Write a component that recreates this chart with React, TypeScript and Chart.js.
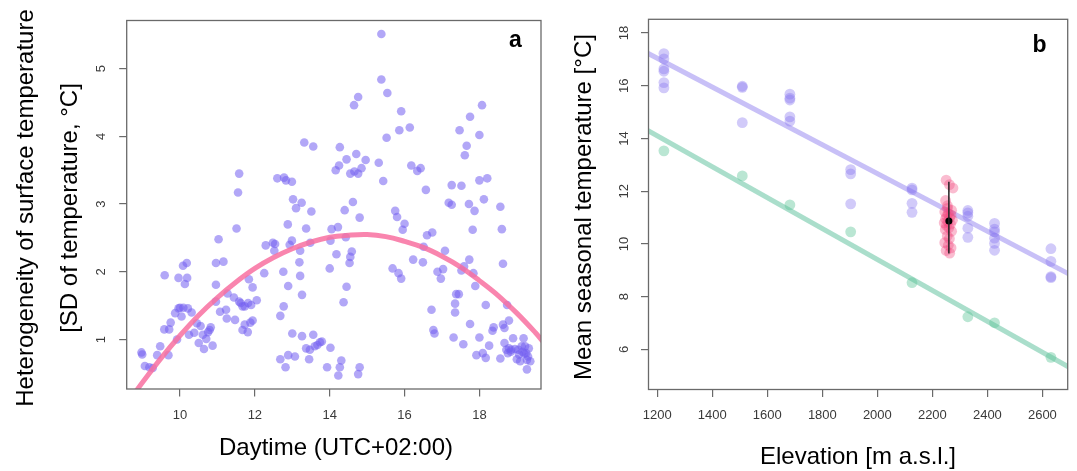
import React, { useEffect, useRef } from 'react';
import { Chart, registerables } from 'chart.js';

Chart.register(...registerables);

const FONT = "'Liberation Sans', Arial, Helvetica, sans-serif";

// ---------- Panel a: heterogeneity vs daytime ----------
const daytime = [
  8.97, 8.99, 9.06, 9.18, 9.27, 9.39, 9.47, 9.59, 9.58, 9.71,
  9.69, 9.75, 9.87, 9.92, 9.96, 10.04, 9.96, 10.08, 10.18, 10.13,
  10.19, 10.21, 10.31, 10.24, 10.45, 10.38, 10.5, 10.61, 10.64, 10.7,
  10.75, 10.82, 10.87, 10.79, 10.96, 10.96, 10.96, 11.03, 11.07, 11.16,
  11.23, 11.25, 11.27, 11.44, 11.47, 11.51, 11.55, 11.58, 11.58, 11.62,
  11.67, 11.67, 11.73, 11.81, 11.88, 11.94, 11.73, 11.82, 11.9, 12.05,
  11.84, 11.94, 12.25, 12.29, 12.48, 12.52, 12.54, 12.6, 12.78, 12.83,
  12.99, 12.68, 12.76, 12.77, 12.68, 12.82, 12.89, 12.88, 12.89, 12.93,
  12.99, 13.02, 13.1, 13.25, 13.0, 13.07, 13.19, 13.21, 13.21, 13.26,
  13.26, 13.32, 13.37, 13.37, 13.45, 13.47, 13.48, 13.51, 13.56, 13.56,
  13.6, 13.67, 13.74, 13.79, 14.02, 13.93, 14.0, 14.02, 14.05, 14.16,
  14.25, 14.27, 14.18, 14.22, 14.23, 14.27, 14.31, 14.37, 14.4, 14.43,
  14.45, 14.45, 14.53, 14.55, 14.59, 14.55, 14.66, 14.76, 14.85, 14.62,
  14.65, 14.76, 14.71, 14.76, 14.8, 14.8, 14.96, 15.31, 15.38, 15.38,
  15.43, 15.54, 15.52, 15.68, 15.84, 15.91, 15.75, 15.8, 15.86, 15.91,
  15.95, 16.0, 16.14, 16.18, 16.23, 16.34, 16.43, 16.51, 16.6, 16.74,
  16.49, 16.57, 16.72, 16.77, 16.8, 16.88, 16.97, 17.03, 17.08, 17.18,
  17.26, 17.26, 17.31, 17.35, 17.35, 17.38, 17.45, 17.47, 17.52, 17.52,
  17.59, 17.57, 17.61, 17.66, 17.72, 17.73, 17.75, 17.75, 17.82, 17.84,
  17.89, 17.87, 17.92, 18.0, 18.09, 18.17, 18.0, 18.12, 18.0, 18.07,
  18.17, 18.21, 18.26, 18.35, 18.38, 18.56, 18.56, 18.6, 18.63, 18.63,
  18.67, 18.67, 18.72, 18.76, 18.79, 18.84, 18.74, 18.79, 18.9, 18.95,
  19.0, 19.04, 19.09, 19.13, 19.18, 19.2, 19.25, 19.27, 19.27, 19.32, 19.36,
  18.85, 19.06, 19.15, 19.22, 19.3, 10.09, 10.0, 10.55,
];
const sdTemperature = [
  0.81, 0.78, 0.61, 0.59, 0.58, 0.77, 0.9, 1.95, 1.15, 1.15,
  0.77, 1.25, 1.39, 1.0, 1.46, 1.34, 1.91, 2.09, 2.13, 1.82,
  1.91, 1.46, 1.4, 1.07, 1.24, 1.1, 0.95, 1.07, 0.86, 1.01,
  1.11, 1.18, 0.91, 1.14, 1.56, 1.81, 2.13, 2.48, 1.41, 2.15,
  1.44, 1.31, 1.68, 1.62, 1.29, 2.64, 3.17, 3.45, 1.56, 1.54,
  1.49, 1.14, 1.22, 1.11, 1.25, 1.28, 1.49, 1.54, 1.51, 1.58,
  1.89, 1.77, 1.98, 2.39, 2.43, 2.31, 2.41, 3.38, 3.39, 3.35,
  3.33, 1.35, 2.0, 1.49, 0.71, 0.59, 0.77, 2.7, 1.79, 2.4,
  2.46, 3.07, 2.94, 3.02, 1.09, 0.75, 2.14, 1.94, 2.31, 1.66,
  1.05, 3.91, 2.64, 0.87, 0.71, 0.85, 2.43, 2.89, 3.85, 1.07,
  0.9, 0.92, 0.96, 0.97, 0.88, 0.59, 2.05, 2.46, 2.63, 3.5,
  3.57, 3.84, 2.26, 2.66, 0.47, 0.59, 0.69, 1.55, 2.91, 2.51,
  1.78, 3.66, 2.13, 2.22, 2.3, 3.45, 3.48, 3.45, 3.53, 3.03,
  4.46, 4.58, 3.74, 0.49, 0.59, 2.8, 3.65, 3.61, 5.51, 4.84,
  3.34, 4.64, 3.98, 2.05, 1.98, 1.9, 2.9, 2.81, 4.09, 4.37,
  2.62, 2.71, 4.13, 3.57, 2.18, 3.49, 3.53, 2.37, 2.54, 2.58,
  2.14, 3.21, 1.44, 1.14, 1.09, 2.0, 1.9, 2.04, 2.31, 3.02,
  2.99, 3.28, 1.03, 1.53, 1.4, 1.67, 1.67, 4.09, 3.27, 2.02,
  2.08, 0.93, 3.72, 3.86, 3.0, 2.18, 4.29, 1.23, 2.62, 1.98,
  1.79, 2.9, 0.77, 1.03, 0.8, 0.73, 3.35, 3.07, 4.02, 4.46,
  1.51, 3.38, 0.91, 1.13, 1.18, 0.72, 2.96, 2.63, 2.12, 1.22,
  1.17, 0.95, 0.85, 0.8, 0.87, 0.82, 1.51, 1.28, 1.02, 0.86,
  0.71, 0.85, 0.68, 0.9, 1.02, 0.79, 0.8, 0.7, 0.56, 0.87, 0.68,
  0.85, 0.78, 0.82, 0.9, 0.75, 1.47, 1.47, 1.2,
];
// fitted curve
const fitCurveX = [8.8, 9.0, 9.5, 10, 10.5, 11, 11.5, 12, 12.5, 13, 13.5, 14, 14.5, 15, 15.5, 16, 16.5, 17, 17.5, 18, 18.5, 19, 19.5, 19.7];
const fitCurveY = [0.22, 0.37, 0.73, 1.06, 1.36, 1.62, 1.85, 2.05, 2.21, 2.34, 2.44, 2.51, 2.54, 2.55, 2.52, 2.45, 2.36, 2.23, 2.07, 1.87, 1.65, 1.39, 1.1, 0.97];
const xTicksA = [10, 12, 14, 16, 18];
const yTicksA = [1, 2, 3, 4, 5];

// ---------- Panel b: temperature vs elevation ----------
const purpleElev = [
  1224, 1224, 1224, 1224, 1224, 1224,
  1509, 1509, 1509,
  1682, 1682, 1682, 1682, 1682,
  1903, 1903, 1903,
  2126, 2126, 2126, 2126,
  2329, 2329, 2329, 2329, 2329,
  2426, 2426, 2426, 2426, 2426, 2426,
  2631, 2631, 2631, 2631,
];
const purpleTemp = [
  17.22, 17.02, 16.64, 16.55, 16.12, 15.92,
  15.98, 15.94, 14.6,
  15.68, 15.53, 15.46, 14.82, 14.66,
  12.82, 12.66, 11.52,
  12.12, 12.05, 11.54, 11.2,
  11.27, 11.18, 11.05, 10.6, 10.25,
  10.78, 10.56, 10.46, 10.22, 10.02, 9.76,
  9.82, 9.34, 8.76, 8.72,
];
const greenElev = [1224, 1509, 1682, 1903, 2126, 2329, 2426, 2631];
const greenTemp = [13.53, 12.58, 11.48, 10.46, 8.53, 7.24, 7.01, 5.7];
const pinkElev = [2250, 2275, 2262, 2248, 2255, 2270, 2245, 2258, 2268, 2252, 2263, 2248, 2273, 2256, 2243, 2266, 2251, 2260, 2247, 2270, 2254, 2262, 2245, 2258, 2268, 2250, 2263, 2255];
const pinkTemp = [12.42, 12.12, 12.25, 11.65, 11.45, 11.28, 11.22, 11.15, 11.1, 11.05, 11.0, 10.95, 10.9, 10.85, 10.8, 10.75, 10.7, 10.62, 10.55, 10.48, 10.3, 10.2, 10.05, 9.95, 9.85, 9.75, 9.65, 11.35];
const meanElev = [2260];
const meanTemp = [10.87];
const errorLow = [9.64];
const errorHigh = [12.36];
const purpleFitX = [1160, 2700];
const purpleFitY = [17.26, 8.84];
const greenFitX = [1160, 2700];
const greenFitY = [14.33, 5.31];
const xTicksB = [1200, 1400, 1600, 1800, 2000, 2200, 2400, 2600];
const yTicksB = [6, 8, 10, 12, 14, 16, 18];

const toXY = (xs: number[], ys: number[]) => xs.map((x, i) => ({ x, y: ys[i] }));

type Decor = {
  xTicks: number[];
  yTicks: number[];
  xLabelY: number;
  yLabelX: number;
  xTitle: string;
  xTitleX: number;
  xTitleY: number;
  yTitle: string[];
  yTitleXs: number[];
  yTitleY: number;
  letter: string;
  letterX: number;
  letterY: number;
};

function decorPlugin(d: Decor) {
  return {
    id: 'decor',
    afterDraw(chart: any) {
      const { ctx, chartArea: a } = chart;
      const sx = chart.scales.x;
      const sy = chart.scales.y;
      ctx.save();
      ctx.strokeStyle = '#6a6a6a';
      ctx.lineWidth = 1.3;
      ctx.strokeRect(a.left, a.top, a.right - a.left, a.bottom - a.top);
      ctx.fillStyle = '#3a3a3a';
      ctx.font = `13px ${FONT}`;
      ctx.textAlign = 'center';
      ctx.textBaseline = 'middle';
      d.xTicks.forEach((v) => ctx.fillText(String(v), sx.getPixelForValue(v), d.xLabelY));
      d.yTicks.forEach((v) => {
        ctx.save();
        ctx.translate(d.yLabelX, sy.getPixelForValue(v));
        ctx.rotate(-Math.PI / 2);
        ctx.fillText(String(v), 0, 0);
        ctx.restore();
      });
      ctx.fillStyle = '#000';
      ctx.font = `24px ${FONT}`;
      ctx.fillText(d.xTitle, d.xTitleX, d.xTitleY);
      d.yTitle.forEach((t, i) => {
        ctx.save();
        ctx.translate(d.yTitleXs[i], d.yTitleY);
        ctx.rotate(-Math.PI / 2);
        ctx.fillText(t, 0, 0);
        ctx.restore();
      });
      ctx.font = `bold 23px ${FONT}`;
      ctx.textBaseline = 'alphabetic';
      ctx.fillText(d.letter, d.letterX, d.letterY);
      ctx.restore();
    },
  };
}

function axis(min: number, max: number, ticks: number[], size: number, horizontal: boolean) {
  return {
    type: 'linear',
    position: horizontal ? 'bottom' : 'left',
    min,
    max,
    afterBuildTicks: (s: any) => {
      s.ticks = ticks.map((v) => ({ value: v }));
    },
    afterFit: (s: any) => {
      if (horizontal) s.height = size;
      else s.width = size;
    },
    grid: { display: true, drawOnChartArea: false, drawTicks: true, tickLength: 7.5, color: '#6a6a6a', lineWidth: 1.2 },
    border: { display: false },
    ticks: { display: false },
  };
}

function configA(): any {
  return {
    type: 'scatter',
    data: {
      datasets: [
        {
          type: 'line',
          data: toXY(fitCurveX, fitCurveY),
          borderColor: 'rgba(248,112,160,0.85)',
          borderWidth: 5,
          pointRadius: 0,
          tension: 0.4,
          fill: false,
          clip: 0,
          order: 0,
        },
        {
          type: 'scatter',
          data: toXY(daytime, sdTemperature),
          backgroundColor: 'rgba(115,95,240,0.55)',
          borderWidth: 0,
          pointRadius: 4.3,
          order: 1,
        },
      ],
    },
    options: {
      responsive: false,
      animation: false,
      events: [],
      layout: { padding: { left: 0, top: 20.5, right: 5, bottom: 0 } },
      plugins: { legend: { display: false }, tooltip: { enabled: false } },
      scales: {
        x: axis(8.575, 19.646, xTicksA, 82, true),
        y: axis(0.27, 5.71, yTicksA, 126.7, false),
      },
    },
    plugins: [
      decorPlugin({
        xTicks: xTicksA,
        yTicks: yTicksA,
        xLabelY: 415.5,
        yLabelX: 101.5,
        xTitle: 'Daytime (UTC+02:00)',
        xTitleX: 336,
        xTitleY: 448.5,
        yTitle: ['Heterogeneity of surface temperature', '[SD of temperature, °C]'],
        yTitleXs: [26.2, 70.3],
        yTitleY: 208,
        letter: 'a',
        letterX: 515.5,
        letterY: 46.5,
      }),
    ],
  };
}

function configB(): any {
  return {
    type: 'scatter',
    data: {
      datasets: [
        {
          type: 'line',
          data: toXY(errorLow.concat(errorHigh).map(() => meanElev[0]), errorLow.concat(errorHigh)),
          borderColor: '#222',
          borderWidth: 1.5,
          pointRadius: 0,
          clip: 0,
          order: 0,
        },
        {
          type: 'scatter',
          data: toXY(meanElev, meanTemp),
          backgroundColor: '#000',
          borderWidth: 0,
          pointRadius: 3.5,
          order: 0,
        },
        {
          type: 'scatter',
          data: toXY(pinkElev, pinkTemp),
          backgroundColor: 'rgba(240,70,125,0.36)',
          borderWidth: 0,
          pointRadius: 5.4,
          order: 1,
        },
        {
          type: 'scatter',
          data: toXY(purpleElev, purpleTemp),
          backgroundColor: 'rgba(135,115,240,0.38)',
          borderWidth: 0,
          pointRadius: 5.4,
          order: 2,
        },
        {
          type: 'scatter',
          data: toXY(greenElev, greenTemp),
          backgroundColor: 'rgba(90,195,150,0.42)',
          borderWidth: 0,
          pointRadius: 5.4,
          order: 2,
        },
        {
          type: 'line',
          data: toXY(purpleFitX, purpleFitY),
          borderColor: 'rgba(145,130,240,0.5)',
          borderWidth: 5,
          pointRadius: 0,
          clip: 0,
          order: 3,
        },
        {
          type: 'line',
          data: toXY(greenFitX, greenFitY),
          borderColor: 'rgba(100,195,160,0.55)',
          borderWidth: 5,
          pointRadius: 0,
          clip: 0,
          order: 3,
        },
      ],
    },
    options: {
      responsive: false,
      animation: false,
      events: [],
      layout: { padding: { left: 0, top: 19.3, right: 9.3, bottom: 0 } },
      plugins: { legend: { display: false }, tooltip: { enabled: false } },
      scales: {
        x: axis(1168, 2692, xTicksB, 81.5, true),
        y: axis(4.48, 18.52, yTicksB, 102.5, false),
      },
    },
    plugins: [
      decorPlugin({
        xTicks: xTicksB,
        yTicks: yTicksB,
        xLabelY: 415.5,
        yLabelX: 78,
        xTitle: 'Elevation [m a.s.l.]',
        xTitleX: 312,
        xTitleY: 457.5,
        yTitle: ['Mean seasonal temperature [°C]'],
        yTitleXs: [38.8],
        yTitleY: 207,
        letter: 'b',
        letterX: 493.6,
        letterY: 52.3,
      }),
    ],
  };
}

export default function App() {
  const refA = useRef<HTMLCanvasElement>(null);
  const refB = useRef<HTMLCanvasElement>(null);
  useEffect(() => {
    const ca = new Chart(refA.current as HTMLCanvasElement, configA());
    const cb = new Chart(refB.current as HTMLCanvasElement, configB());
    return () => {
      ca.destroy();
      cb.destroy();
    };
  }, []);
  return (
    <div style={{ position: 'absolute', left: 0, top: 0, width: 1077, height: 471, background: '#fff', overflow: 'hidden' }}>
      <canvas ref={refA} width={546} height={471} style={{ position: 'absolute', left: 0, top: 0 }} />
      <canvas ref={refB} width={531} height={471} style={{ position: 'absolute', left: 546, top: 0 }} />
    </div>
  );
}
